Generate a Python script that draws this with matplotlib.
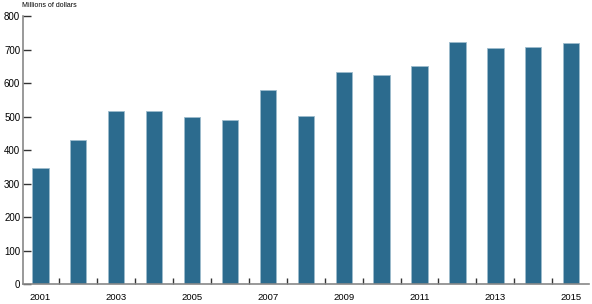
import matplotlib.pyplot as plt

years = list(range(2001, 2016))
values = [346, 430, 516, 516, 498, 490, 578, 502, 632, 624, 651, 722, 706, 708, 719]
year_labels = [str(y) if y % 2 == 1 else '' for y in years]
yticks = [0, 100, 200, 300, 400, 500, 600, 700, 800]

plt.rcParams['font.family'] = ['Liberation Sans', 'DejaVu Sans']

fig = plt.figure(figsize=(5.92, 3.04), dpi=100)
ax = fig.add_axes([23 / 592, (304 - 284.2) / 304, 566 / 592, (284.2 - 16) / 304])

x = list(range(len(years)))
ax.bar(x, values, width=0.43, color='#2c6b8e', edgecolor='#9dbccd', linewidth=0.6)

ax.set_xlim(-0.46, 14.47)
ax.set_ylim(0, 800)

ax.set_yticks(yticks)
ax.tick_params(axis='y', direction='in', length=6, width=1, color='#333333',
               labelsize=7, pad=2)
ax.set_xticks(x)
ax.set_xticklabels(year_labels)
ax.tick_params(axis='x', length=0, labelsize=6.8, pad=6)
ax.set_xticks([i + 0.5 for i in range(14)], minor=True)
ax.tick_params(axis='x', which='minor', direction='in', length=4, width=1, color='#333333')

for side in ['top', 'right']:
    ax.spines[side].set_visible(False)
ax.spines['left'].set_color('#888888')
ax.spines['bottom'].set_color('#888888')
ax.spines['left'].set_linewidth(1.2)
ax.spines['bottom'].set_linewidth(1.2)

fig.text(22 / 592, 1 - 5.5 / 304, 'Millions of dollars', fontsize=5, va='center', ha='left')

plt.savefig('out.png', dpi=100)
